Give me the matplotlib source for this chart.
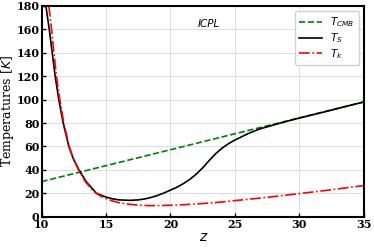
import numpy as np
import matplotlib
matplotlib.use("Agg")
from matplotlib import pyplot as plt

# values
z_cmb = [10, 35]
t_cmb = [30.0, 98.1]

z_s = [10.34, 10.6, 10.83, 11.06, 11.34, 11.68, 12.12, 12.45, 12.9, 13.5, 14.26, 15.0, 15.5,
       16.0, 16.85, 17.5, 18.0, 18.5, 19.0, 19.5, 20.0, 20.5, 21.0, 21.5, 22.0, 22.5, 23.0,
       23.5, 24.0, 24.5, 25.0, 25.5, 26.0, 26.9, 28.2, 29.5, 30.0, 31.0, 32.0, 33.0, 34.0, 35.0]
t_s = [180, 160, 140, 120, 100, 80, 60, 50, 40, 29.5, 20, 16.8, 15.3,
       14.4, 14.0, 14.4, 15.2, 16.5, 18.2, 20.3, 22.8, 25.2, 28.3, 31.9, 36.4, 41.8, 48.0,
       53.8, 58.6, 62.4, 65.5, 68.2, 70.9, 74.9, 79.0, 82.9, 84.3, 87.0, 89.7, 92.5, 95.3, 98.0]

z_k = [10.57, 10.78, 10.96, 11.16, 11.42, 11.73, 12.15, 12.45, 12.87, 13.4, 14.0, 14.5, 15.0,
       15.5, 16.0, 16.85, 17.5, 18.4, 19.0, 20.0, 21.0, 22.0, 23.0, 24.0, 25.0, 26.0, 27.0,
       28.0, 29.0, 30.0, 31.0, 32.0, 33.0, 34.0, 35.0]
t_k = [180, 160, 140, 120, 100, 80, 60, 50, 40, 30, 22, 18.2, 15.5,
       13.5, 12.0, 10.6, 9.9, 9.5, 9.5, 9.8, 10.3, 10.9, 11.7, 12.6, 13.8, 14.9, 16.0,
       17.2, 18.5, 19.8, 21.1, 22.4, 23.8, 25.2, 26.6]

fig, ax = plt.subplots(figsize=(3.74, 2.48), dpi=100)
fig.subplots_adjust(left=0.111, right=0.973, top=0.976, bottom=0.126)

ax.plot(z_cmb, t_cmb, color='green', ls='--', lw=1.2, label=r'$T_{CMB}$')
ax.plot(z_s, t_s, color='black', ls='-', lw=1.2, label=r'$T_S$')
ax.plot(z_k, t_k, color='red', ls='-.', lw=1.2, label=r'$T_k$')

ax.set_xlim(10, 35)
ax.set_ylim(0, 180)
ax.set_xticks([10, 15, 20, 25, 30, 35])
ax.set_yticks(range(0, 181, 20))
ax.grid(True, color='#dddddd', lw=0.7)
ax.tick_params(direction='in', length=3, width=1, labelsize=8, pad=1.5)
for lab in ax.get_xticklabels() + ax.get_yticklabels():
    lab.set_family('DejaVu Serif')
    lab.set_fontweight('bold')
for sp in ax.spines.values():
    sp.set_linewidth(1.5)

ax.set_xlabel('z', fontsize=10, style='italic', labelpad=0)
ax.set_ylabel(r'Temperatures [$\mathit{K}$]', fontsize=9, family='DejaVu Serif')
ax.yaxis.set_label_coords(-0.078, 0.5)
ax.text(22.1, 165, 'ICPL', style='italic', fontsize=7.5, va='center')
leg = ax.legend(loc='upper right', fontsize=7.5, handlelength=2.2, labelspacing=0.2,
                borderpad=0.4, framealpha=0.9)

fig.savefig('out.png', dpi=100)
